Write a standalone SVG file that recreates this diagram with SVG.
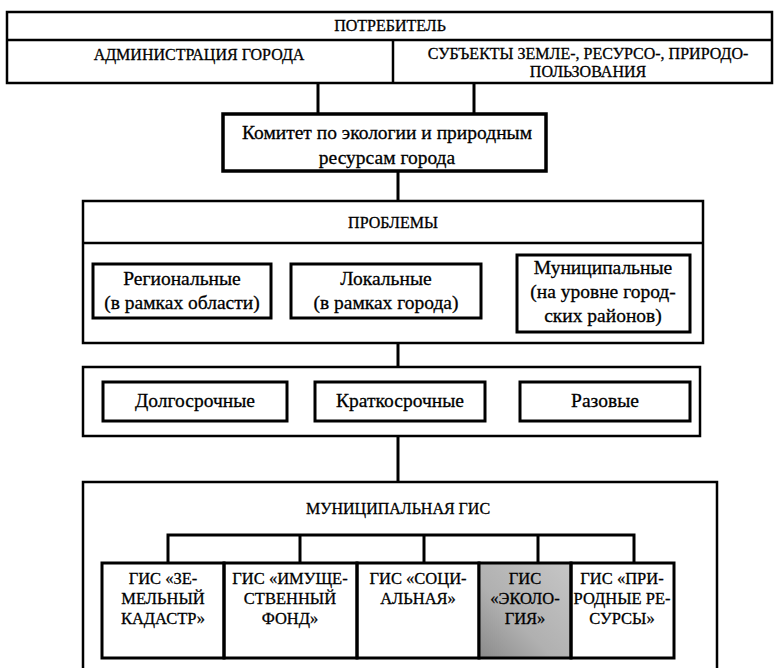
<svg xmlns="http://www.w3.org/2000/svg" width="775" height="668" viewBox="0 0 775 668">
<defs>
<style>
.b{fill:#fff;stroke:#000;stroke-width:2.5}
.bt{fill:#fff;stroke:#000;stroke-width:3.5}
.ln{fill:none;stroke:#000;stroke-width:2.5}
.c{fill:none;stroke:#000;stroke-width:3}
.eco{fill:url(#eco);stroke:#000;stroke-width:3}
.t text{font-family:"Liberation Serif","DejaVu Serif","Times New Roman",serif;fill:#000;stroke:#000;stroke-width:0.3;text-anchor:middle}
.u text{font-size:16px}
.l text{font-size:19.5px}
.g text{font-size:16.5px}
</style>
<linearGradient id="eco" x1="1" y1="0" x2="0" y2="1">
<stop offset="0" stop-color="#c6c6c6"/>
<stop offset="0.6" stop-color="#b0b0b0"/>
<stop offset="1" stop-color="#8a8a8a"/>
</linearGradient>
</defs>
<rect width="775" height="668" fill="#fff"/>

<g id="connectors">
<line class="c" x1="318" y1="83" x2="318" y2="114"/>
<line class="c" x1="474" y1="83" x2="474" y2="114"/>
<line class="c" x1="398" y1="171" x2="398" y2="201"/>
<line class="c" x1="398" y1="343" x2="398" y2="367"/>
<line class="c" x1="398" y1="436" x2="398" y2="482"/>
<path class="c" d="M168,563 V535 H634 V563"/>
<line class="c" x1="300" y1="535" x2="300" y2="563"/>
<line class="c" x1="424" y1="535" x2="424" y2="563"/>
<line class="c" x1="538" y1="535" x2="538" y2="563"/>
</g>

<g id="consumer" class="t u">
<rect class="b" x="7" y="12" width="765" height="71"/>
<line class="ln" x1="7" y1="40" x2="772" y2="40"/>
<line class="ln" x1="393" y1="40" x2="393" y2="83"/>
<text x="390" y="31">ПОТРЕБИТЕЛЬ</text>
</g>
<g id="admin" class="t u">
<text x="199" y="60">АДМИНИСТРАЦИЯ ГОРОДА</text>
</g>
<g id="subjects" class="t u">
<text x="588" y="59">СУБЪЕКТЫ ЗЕМЛЕ-, РЕСУРСО-, ПРИРОДО-</text>
<text x="588" y="77">ПОЛЬЗОВАНИЯ</text>
</g>

<g id="committee" class="t l">
<rect class="bt" x="223" y="114" width="323" height="57"/>
<text x="387" y="139">Комитет по экологии и природным</text>
<text x="387" y="164">ресурсам города</text>
</g>

<g id="problems" class="t u">
<rect class="b" x="83" y="201" width="620" height="142"/>
<line class="ln" x1="83" y1="243" x2="703" y2="243"/>
<text x="393" y="228">ПРОБЛЕМЫ</text>
</g>
<g id="regional" class="t l">
<rect class="c" x="93" y="264" width="178" height="54"/>
<text x="182" y="285">Региональные</text>
<text x="182" y="309">(в рамках области)</text>
</g>
<g id="local" class="t l">
<rect class="c" x="291" y="264" width="190" height="54"/>
<text x="386" y="285">Локальные</text>
<text x="386" y="309">(в рамках города)</text>
</g>
<g id="municipal" class="t l">
<rect class="c" x="517" y="255" width="173" height="77"/>
<text x="603" y="274">Муниципальные</text>
<text x="603" y="298">(на уровне город-</text>
<text x="603" y="322">ских районов)</text>
</g>

<g id="terms">
<rect class="b" x="83" y="367" width="617" height="69"/>
</g>
<g id="long-term" class="t l">
<rect class="c" x="103" y="382" width="184" height="39"/>
<text x="195" y="407">Долгосрочные</text>
</g>
<g id="short-term" class="t l">
<rect class="c" x="315" y="382" width="170" height="39"/>
<text x="400" y="407">Краткосрочные</text>
</g>
<g id="one-time" class="t l">
<rect class="c" x="520" y="382" width="170" height="39"/>
<text x="605" y="407">Разовые</text>
</g>

<g id="municipal-gis" class="t u">
<path class="ln" d="M83,700 V482 H717 V700"/>
<text x="398" y="514">МУНИЦИПАЛЬНАЯ ГИС</text>
</g>
<g id="gis-land" class="t g">
<rect class="c" x="102" y="563" width="122" height="95"/>
<text x="163" y="584">ГИС «ЗЕ-</text>
<text x="163" y="604">МЕЛЬНЫЙ</text>
<text x="163" y="624">КАДАСТР»</text>
</g>
<g id="gis-property" class="t g">
<rect class="c" x="224" y="563" width="133" height="95"/>
<text x="290" y="584">ГИС «ИМУЩЕ-</text>
<text x="290" y="604">СТВЕННЫЙ</text>
<text x="290" y="624">ФОНД»</text>
</g>
<g id="gis-social" class="t g">
<rect class="c" x="357" y="563" width="122" height="95"/>
<text x="418" y="584">ГИС «СОЦИ-</text>
<text x="418" y="604">АЛЬНАЯ»</text>
</g>
<g id="gis-ecology" class="t g">
<rect class="eco" x="479" y="563" width="92" height="95"/>
<text x="525" y="584">ГИС</text>
<text x="525" y="604">«ЭКОЛО-</text>
<text x="525" y="624">ГИЯ»</text>
</g>
<g id="gis-resources" class="t g">
<rect class="c" x="571" y="563" width="103" height="95"/>
<text x="622" y="584">ГИС «ПРИ-</text>
<text x="622" y="604">РОДНЫЕ РЕ-</text>
<text x="622" y="624">СУРСЫ»</text>
</g>
</svg>
